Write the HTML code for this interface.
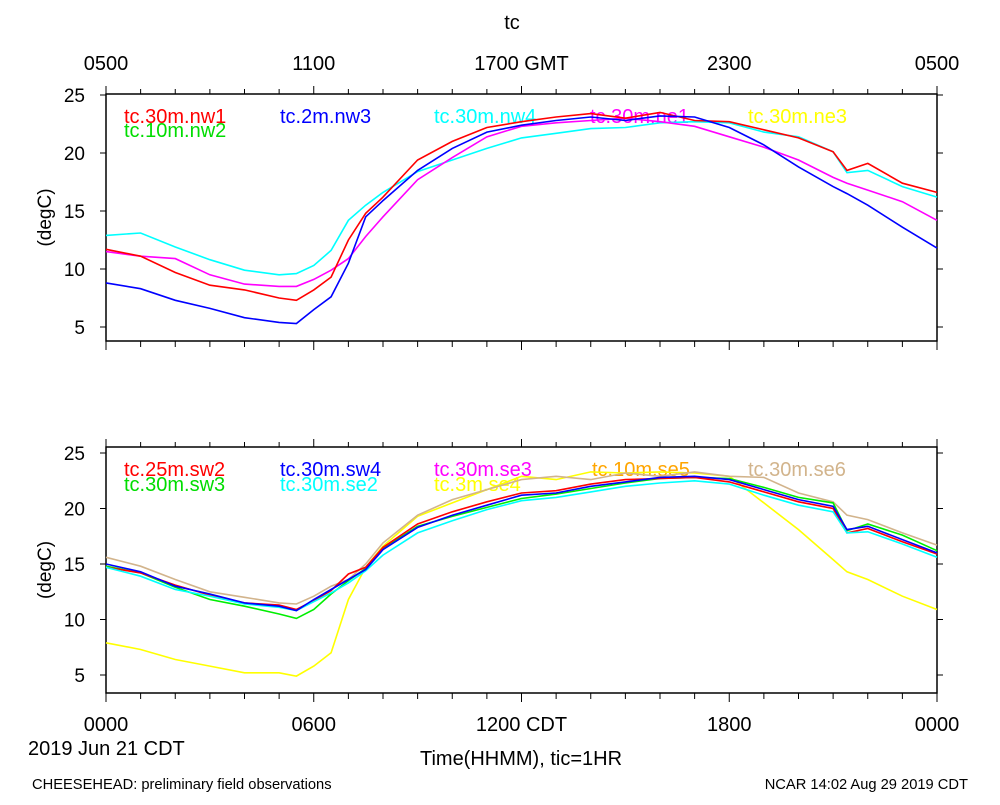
<!DOCTYPE html>
<html><head><meta charset="utf-8"><style>
body{margin:0;background:#fff;width:1000px;height:800px;overflow:hidden}
svg{font-family:"Liberation Sans",sans-serif}
</style></head><body>
<svg id="c" width="1000" height="800" xmlns="http://www.w3.org/2000/svg"></svg>
<script>
const hours=[0,1,2,3,4,5,5.5,6,6.5,7,7.5,8,9,10,11,12,13,14,15,16,17,18,19,20,21,21.4,22,23,24];
// top panel series
const nw1=[11.7,11.1,9.7,8.6,8.2,7.5,7.3,8.2,9.3,12.5,14.8,16.2,19.4,21.0,22.2,22.7,23.1,23.4,23.0,23.5,22.8,22.7,22.0,21.3,20.1,18.5,19.1,17.4,16.6];
const nw3=[8.8,8.3,7.3,6.6,5.8,5.4,5.3,6.5,7.6,10.5,14.5,15.9,18.5,20.4,21.8,22.4,22.8,23.1,22.8,23.2,23.1,22.2,20.7,18.8,17.1,16.5,15.5,13.6,11.8];
const ne1=[11.5,11.1,10.9,9.5,8.7,8.5,8.5,9.1,9.9,10.9,12.8,14.5,17.7,19.6,21.4,22.3,22.6,22.8,23.0,22.7,22.3,21.4,20.5,19.4,17.9,17.4,16.8,15.8,14.2];
const nw4=[12.9,13.1,11.9,10.8,9.9,9.5,9.6,10.3,11.6,14.2,15.5,16.6,18.4,19.4,20.4,21.3,21.7,22.1,22.2,22.6,22.7,22.6,21.8,21.4,20.1,18.3,18.5,17.1,16.2];
// bottom panel series
const sw4=[15.0,14.3,13.0,12.3,11.5,11.2,10.8,11.8,12.7,13.6,14.5,16.3,18.3,19.4,20.3,21.2,21.4,22.0,22.4,22.8,22.9,22.6,21.7,20.8,20.2,18.1,18.4,17.2,16.0];
const sw2=[14.7,14.2,13.1,12.2,11.5,11.3,10.9,11.7,12.6,14.1,14.7,16.5,18.6,19.7,20.6,21.4,21.6,22.2,22.6,22.7,22.8,22.4,21.5,20.6,20.0,17.8,18.2,17.0,15.9];
const sw3=[14.8,14.2,12.9,11.8,11.2,10.5,10.1,10.9,12.3,13.5,14.6,16.4,18.4,19.3,20.1,20.9,21.3,21.8,22.3,22.7,22.8,22.7,21.9,21.0,20.5,18.0,18.6,17.6,16.2];
const se2=[14.7,13.9,12.7,12.1,11.4,11.1,10.8,11.6,12.4,13.3,14.4,15.8,17.8,18.9,19.9,20.7,21.0,21.5,22.0,22.3,22.5,22.2,21.2,20.3,19.7,17.8,17.9,16.8,15.6];
const se6=[15.6,14.8,13.6,12.5,12.0,11.5,11.4,12.1,13.0,13.6,15.0,16.9,19.4,20.8,21.7,22.6,22.9,22.6,23.2,22.9,23.3,22.9,22.8,21.4,20.6,19.4,19.0,17.8,16.7];
const se4=[7.9,7.3,6.4,5.8,5.2,5.2,4.9,5.8,7.0,11.8,14.7,16.6,19.3,20.5,21.7,22.9,22.6,23.3,23.2,23.3,23.2,22.9,20.5,18.1,15.4,14.3,13.6,12.1,10.9];
const topTicks=["0500","1100","1700 GMT","2300","0500"];
const botTicks=["0000","0600","1200 CDT","1800","0000"];
const yTicks=[5,10,15,20,25];

const svg=document.getElementById('c');
const NS="http://www.w3.org/2000/svg";
function el(tag,attrs,parent){const e=document.createElementNS(NS,tag);for(const k in attrs)e.setAttribute(k,attrs[k]);(parent||svg).appendChild(e);return e;}
const X0=106,X1=937;
const xs=h=>X0+(X1-X0)*h/24;
const P1={top:94,bot:341,y25:95,y5:327};
const P2={top:447,bot:693,y25:453,y5:675};
const ys=(p,v)=>p.y5+(p.y25-p.y5)*(v-5)/20;

function panel(p,name){
  const g=el('g',{});
  
  
  el('rect',{x:X0,y:p.top,width:X1-X0,height:p.bot-p.top,fill:'none',stroke:'#000','stroke-width':1.5},g);
  for(let h=0;h<=24;h++){
    const x=xs(h),major=h%6===0;
    el('line',{x1:x,x2:x,y1:p.top,y2:p.top-(major?8:5),stroke:'#000'},g);
    el('line',{x1:x,x2:x,y1:p.bot,y2:p.bot+(major?9:6),stroke:'#000'},g);
  }
  yTicks.forEach(v=>{
    const y=ys(p,v);
    el('line',{x1:X0,x2:X0-6,y1:y,y2:y,stroke:'#000'},g);
    el('line',{x1:X1,x2:X1+6,y1:y,y2:y,stroke:'#000'},g);
    const t=el('text',{x:X0-21,y:y+7,'text-anchor':'end','font-size':19},g);
    t.textContent=v;
    
    
  });
  const yl=el('text',{x:0,y:0,'font-size':19,'text-anchor':'middle',transform:`translate(51,${(p.top+p.bot)/2}) rotate(-90)`},g);
  yl.textContent='(degC)';
  
  
  return g;
}
function series(p,vals,color,name){
  const d=vals.map((v,i)=>(i?'L':'M')+xs(hours[i]).toFixed(1)+','+ys(p,v).toFixed(1)).join(' ');
  const e=el('path',{d:d,fill:'none',stroke:color,'stroke-width':1.6});
  
  
}
function label(x,y,txt,color,name,size,anchor){
  const t=el('text',{x:x,y:y,fill:color||'#000','font-size':size||20,'text-anchor':anchor||'start'});
  t.textContent=txt;
  
  
}
panel(P1,'top-panel');
panel(P2,'bottom-panel');
label(512,29,'tc','#000','chart-title',20,'middle');
topTicks.forEach((s,i)=>label(xs(i*6),70,s,'#000','top-x-tick-label',20,'middle'));
botTicks.forEach((s,i)=>label(xs(i*6),731,s,'#000','bottom-x-tick-label',20,'middle'));
label(28,755,'2019 Jun 21 CDT','#000','date-label',20);
label(521,765,'Time(HHMM), tic=1HR','#000','x-axis-title',20,'middle');
label(32,789,'CHEESEHEAD: preliminary field observations','#000','footer-left',14.7);
label(968,789,'NCAR 14:02 Aug 29 2019 CDT','#000','footer-right',14.7,'end');

// top legend
label(124,123,'tc.30m.nw1','#ff0000','legend-nw1');
label(124,137,'tc.10m.nw2','#00dd00','legend-nw2');
label(280,123,'tc.2m.nw3','#0000ff','legend-nw3');
label(434,123,'tc.30m.nw4','#00ffff','legend-nw4');
label(590,123,'tc.30m.ne1','#ff00ff','legend-ne1');
label(748,123,'tc.30m.ne3','#ffff00','legend-ne3');
series(P1,nw4,'#00ffff','line-nw4');
series(P1,ne1,'#ff00ff','line-ne1');
series(P1,nw1,'#ff0000','line-nw1');
series(P1,nw3,'#0000ff','line-nw3');

// bottom legend
label(124,476,'tc.25m.sw2','#ff0000','legend-sw2');
label(124,491,'tc.30m.sw3','#00dd00','legend-sw3');
label(280,476,'tc.30m.sw4','#0000ff','legend-sw4');
label(280,491,'tc.30m.se2','#00ffff','legend-se2');
label(434,476,'tc.30m.se3','#ff00ff','legend-se3');
label(434,491,'tc.3m.se4','#ffff00','legend-se4');
label(592,476,'tc.10m.se5','#ffa500','legend-se5');
label(748,476,'tc.30m.se6','#d2b48c','legend-se6');
series(P2,se4,'#ffff00','line-se4');
series(P2,se6,'#d2b48c','line-se6');
series(P2,sw3,'#00ee00','line-sw3');
series(P2,sw2,'#ff0000','line-sw2');
series(P2,se2,'#00ffff','line-se2');
series(P2,sw4,'#0000ff','line-sw4');
</script>
</body></html>
